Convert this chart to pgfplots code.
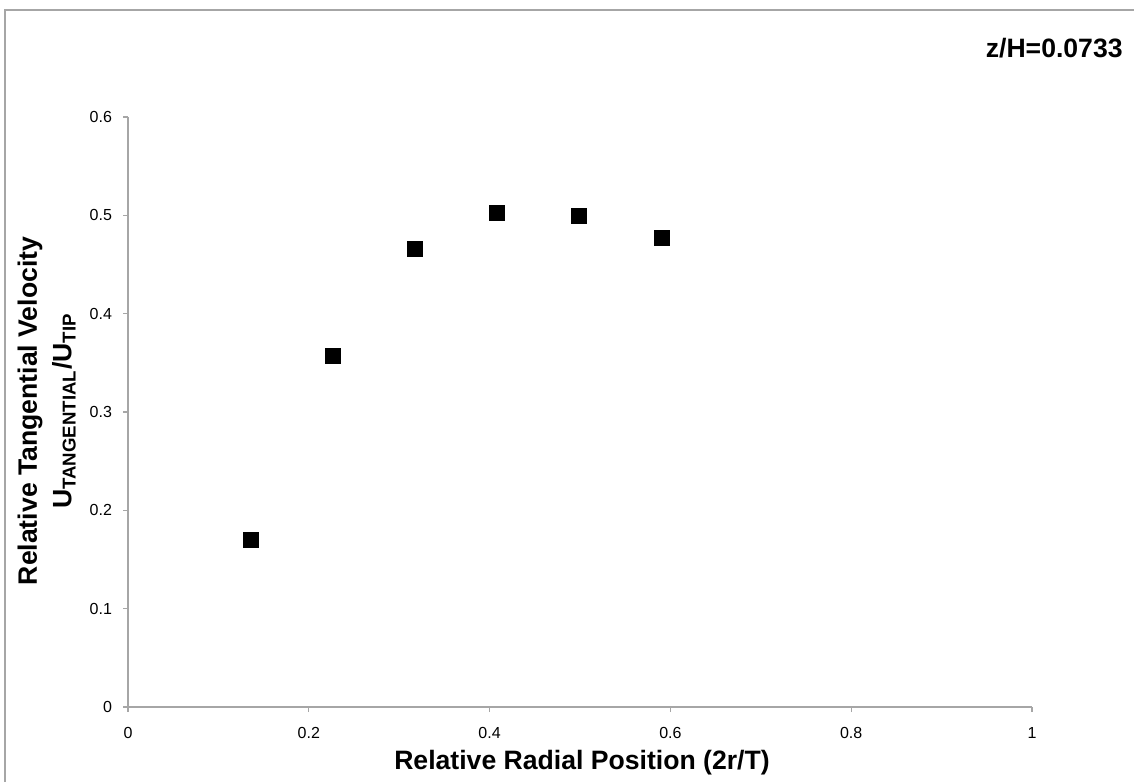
\documentclass[border=0pt]{standalone}
\usepackage{pgfplots}
\pgfplotsset{compat=1.18}
\usepackage{fontspec}
\setmainfont{Liberation Sans}

\begin{document}
\begin{tikzpicture}
% picture frame: 1 px of the reference = 0.5pt, axis origin at px (128,707)
\useasboundingbox (-64pt,-37.5pt) rectangle (503pt,353.5pt);
\draw[gray!70, line width=0.6pt] (-61.5pt,-37.5pt) -- (-61.5pt,348.5pt) -- (503pt,348.5pt);

\begin{axis}[
    scale only axis,
    width=452pt, height=295pt,
    xmin=0, xmax=1, ymin=0, ymax=0.6,
    xtick={0,0.2,0.4,0.6,0.8,1},
    ytick={0,0.1,0.2,0.3,0.4,0.5,0.6},
    axis x line=bottom, axis y line=left,
    axis line style={-, gray!70, line width=0.6pt},
    tick style={gray!70, line width=0.6pt},
    tick align=outside,
    major tick length=2.5pt,
    tick label style={font=\fontsize{8}{9.5}\selectfont},
    /pgf/number format/assume math mode=true,
    xticklabel style={yshift=-4pt},
    yticklabel style={xshift=-2pt},
    clip=false,
]
\addplot[only marks, mark=square*, mark size=3.75pt, black] coordinates {
    (0.136,0.170) (0.227,0.357) (0.317,0.466)
    (0.408,0.502) (0.499,0.499) (0.591,0.477)
};
\end{axis}

% title, axis labels
\node[anchor=east, inner sep=0pt, font=\fontsize{13.3}{15}\selectfont\bfseries] at (497.5pt,329.5pt) {z/H=0.0733};
\node[font=\fontsize{13.3}{15}\selectfont\bfseries] at (227pt,-28pt) {Relative Radial Position (2r/T)};
\node[rotate=90, font=\fontsize{13.3}{15}\selectfont\bfseries] at (-49pt,148pt) {Relative Tangential Velocity};
\node[rotate=90, font=\fontsize{13.3}{15}\selectfont\bfseries] at (-32pt,148pt) {U\textsubscript{TANGENTIAL}/U\textsubscript{TIP}};
\end{tikzpicture}
\end{document}
